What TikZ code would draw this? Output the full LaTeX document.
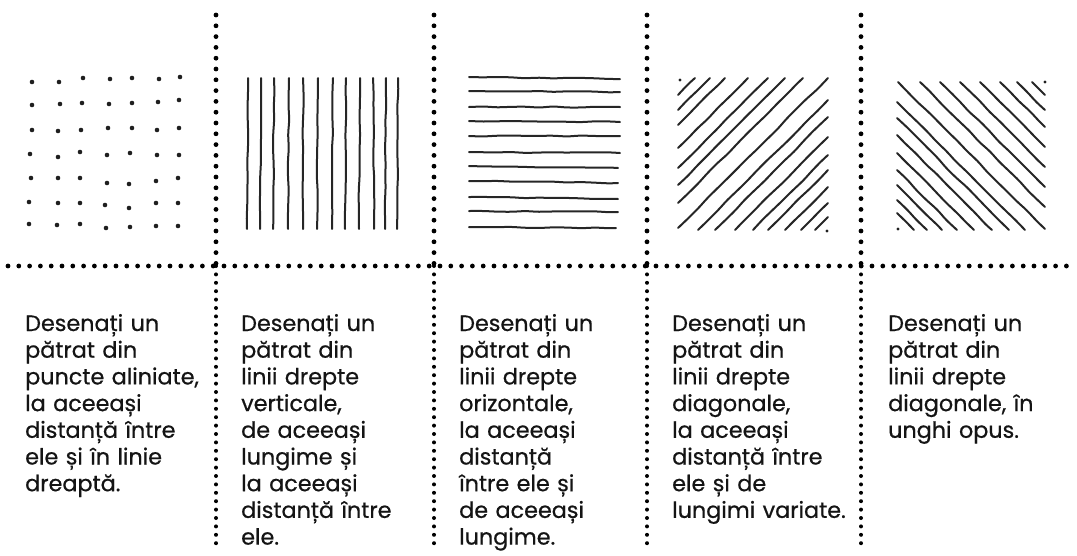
\documentclass[tikz,border=0pt]{standalone}
\usepackage{fontspec}
\usetikzlibrary{decorations.pathmorphing}
\setmainfont{Poppins}[FakeBold=0.6]
\begin{document}
\begin{tikzpicture}[x=1pt,y=-1pt,
  sep/.style={line width=4.8pt, line cap=round, dash pattern=on 0pt off 10.8pt, black},
  seplow/.style={line width=4pt, line cap=round, dash pattern=on 0pt off 8.4pt, black},
  hatch/.style={line width=2pt, line cap=round, line join=round, black!85,
    decorate, decoration={random steps, segment length=14pt, amplitude=0.6pt}, rounded corners=4pt},
  pt/.style={fill=black!88},
  desc/.style={anchor=base west, inner sep=0pt, text width=210pt, align=left,
    font=\fontsize{22.3}{26.7}\selectfont, text=black!92}]
\pgfmathsetseed{7}
\useasboundingbox (0,0) rectangle (1077,555);
% separators
\foreach \i/\x in {1/216,2/434,3/647,4/861}{
  \coordinate (v\i t) at (\x,15);
  \coordinate (v\i m) at (\x,266);
  \coordinate (v\i b) at (\x,545);
  \draw[sep] (v\i t) -- (v\i m);
  \draw[seplow] (v\i m) -- (v\i b);
}
\coordinate (hl) at (8,266);
\coordinate (hr) at (1077,266);
\draw[sep] (hl) -- (hr);
% square 1: dots
\foreach \x/\y in {32/82,59/82,83/78,110/79,132/78,159/79,180/77,
  32/105,60/104,82/103,109/104,132/103,158/102,179/100,
  32/130,58/131,81/130,108/128,132/128,157/130,179/128,
  30/154,58/157,80/152,107/155,130/153,157/155,179/155,
  31/178,58/178,80/178,107/183,129/184,156/181,178/178,
  29/202,58/203,80/203,105/205,129/208,156/203,178/203,
  29/224,57/225,80/224,106/228,130/227,156/226,178/226}
  \fill[pt] (\x,\y) circle (2.3pt);
% square 2: vertical lines
\foreach \xt/\xb in {248/247,261/260,274/273,289/288,303/303,318/317,333/332,346/345,360/359,373/374,386/385,398/397}
  \draw[hatch] (\xt,78) -- (\xb,229);
% square 3: horizontal lines
\foreach \ya/\yb/\xe in {77/79/620,91/92/620,107/107/620,121/122/620,136/136/620,152/153/620,166/168/618,181/183/618,197/199/618,211/212/618,227/228/616}
  \draw[hatch] (469,\ya) -- (\xe,\yb);
% square 4: diagonals /
\foreach \c in {773,788,803,826,846,863,881,906,928,945,965,983,998,1015,1031,1045}{
  \pgfmathsetmacro\sx{max(678,\c-230)}
  \pgfmathsetmacro\sy{\c-\sx}
  \pgfmathsetmacro\ex{min(828,\c-78)}
  \pgfmathsetmacro\ey{\c-\ex}
  \draw[hatch] (\sx,\sy) -- (\ex,\ey);
}
\fill[pt] (680,80) circle (1.7pt);
\fill[pt] (827,231) circle (1.7pt);
% square 5: diagonals \
\foreach \c in {684,697,712,727,744,762,779,795,816,838,858,878,898,918,935,950}{
  \pgfmathsetmacro\sx{max(897,\c+82)}
  \pgfmathsetmacro\sy{\sx-\c}
  \pgfmathsetmacro\ex{min(1045,\c+230)}
  \pgfmathsetmacro\ey{\ex-\c}
  \draw[hatch] (\sx,\sy) -- (\ex,\ey);
}
\fill[pt] (1045,82) circle (1.7pt);
\fill[pt] (898,229) circle (1.7pt);
% texts
\node[desc] (t1) at (25,331) {Desenați un\\pătrat din\\puncte aliniate,\\la aceeași\\distanță între\\ele și în linie\\dreaptă.};
\node[desc] (t2) at (241,331) {Desenați un\\pătrat din\\linii drepte\\verticale,\\de aceeași\\lungime și\\la aceeași\\distanță între\\ele.};
\node[desc] (t3) at (459,331) {Desenați un\\pătrat din\\linii drepte\\orizontale,\\la aceeași\\distanță\\între ele și\\de aceeași\\lungime.};
\node[desc] (t4) at (672,331) {Desenați un\\pătrat din\\linii drepte\\diagonale,\\la aceeași\\distanță între\\ele și de\\lungimi variate.};
\node[desc] (t5) at (888,331) {Desenați un\\pătrat din\\linii drepte\\diagonale, în\\unghi opus.};
\end{tikzpicture}
\end{document}
